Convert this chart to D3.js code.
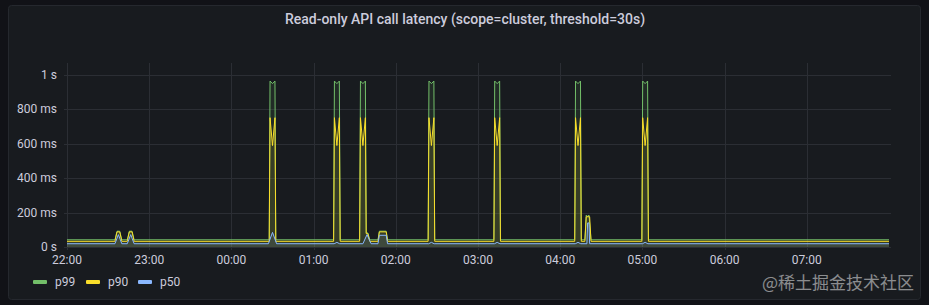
<!DOCTYPE html>
<html>
<head>
<meta charset="utf-8">
<script src="https://cdn.jsdelivr.net/npm/d3@7"></script>
<style>
  html, body { margin: 0; padding: 0; background: #111217; }
  svg { display: block; font-family: Roboto, "Noto Sans", sans-serif; }
</style>
</head>
<body>
<svg id="chart"></svg>
<script>
// minutes after 22:00, value in ms
const p99 = [
  [0, 42], [35, 42], [36.5, 92], [38.5, 92], [40, 42], [44, 42], [45.5, 92], [47.5, 92], [49, 42],
  [147.6, 42], [148.2, 965], [150, 950], [151.8, 965], [152.4, 42],
  [194.6, 42], [195.2, 965], [197, 950], [198.8, 965], [199.4, 42],
  [213.6, 42], [214.2, 965], [216, 950], [217.8, 965], [218.4, 82], [219.6, 82], [221, 42],
  [227, 42], [228, 92], [233, 92], [234, 42],
  [263.6, 42], [264.2, 965], [266, 950], [267.8, 965], [268.4, 42],
  [311.6, 42], [312.2, 965], [314, 950], [315.8, 965], [316.4, 42],
  [370.6, 42], [371.2, 965], [373, 950], [374.8, 965], [375.4, 42],
  [378, 42], [379, 186], [380, 178], [381, 186], [382.5, 42],
  [419.6, 42], [420.2, 965], [422, 950], [423.8, 965], [424.4, 42],
  [600, 42]
];
const p90 = [
  [0, 33], [35, 33], [36.5, 88], [38.5, 88], [40, 33], [44, 33], [45.5, 88], [47.5, 88], [49, 33],
  [147.6, 33], [148.2, 752], [150, 590], [151.8, 752], [152.4, 33],
  [194.6, 33], [195.2, 752], [197, 590], [198.8, 752], [199.4, 33],
  [213.6, 33], [214.2, 752], [216, 590], [217.8, 752], [218.4, 78], [219.6, 78], [221, 33],
  [227, 33], [228, 88], [233, 88], [234, 33],
  [263.6, 33], [264.2, 752], [266, 590], [267.8, 752], [268.4, 33],
  [311.6, 33], [312.2, 752], [314, 590], [315.8, 752], [316.4, 33],
  [370.6, 33], [371.2, 752], [373, 590], [374.8, 752], [375.4, 33],
  [378, 33], [379, 176], [381.5, 176], [382.5, 33],
  [419.6, 33], [420.2, 752], [422, 590], [423.8, 752], [424.4, 33],
  [600, 33]
];
const p50 = [
  [0, 19], [35, 19], [37.5, 72], [40, 19], [44, 19], [46.5, 72], [49, 19],
  [147, 19], [150, 85], [153, 19],
  [195, 19], [197, 27], [199, 19],
  [216, 19], [219, 72], [222, 19],
  [227, 19], [228, 68], [233, 68], [234, 19],
  [264, 19], [266, 27], [268, 19],
  [312, 19], [314, 27], [316, 19],
  [371, 19], [373, 27], [375, 19],
  [379.5, 19], [380, 140], [381, 140], [381.5, 19],
  [420, 19], [422, 27], [424, 19],
  [600, 19]
];

const seriesNames = ["p99", "p90", "p50"];
const seriesColors = ["#73BF69", "#FADE2A", "#8AB8FF"];
const xTickLabels = ["22:00", "23:00", "00:00", "01:00", "02:00", "03:00", "04:00", "05:00", "06:00", "07:00"];
const yTicks = [0, 200, 400, 600, 800, 1000];
const yTickLabels = ["0 s", "200 ms", "400 ms", "600 ms", "800 ms", "1 s"];

const width = 929, height = 305;
const svg = d3.select("#chart").attr("width", width).attr("height", height);

// panel
svg.append("rect")
  .attr("x", 8.5).attr("y", 5.5)
  .attr("width", 912).attr("height", 294)
  .attr("rx", 3)
  .attr("fill", "#181b1f")
  .attr("stroke", "#25282e");

svg.append("text")
  .attr("x", 465).attr("y", 24)
  .attr("text-anchor", "middle")
  .attr("font-size", 14)
  .attr("font-weight", 500)
  .attr("fill", "#ccccdc")
  .text("Read-only API call latency (scope=cluster, threshold=30s)");

const start = new Date(2022, 0, 1, 22, 0);
const toDate = m => new Date(start.getTime() + m * 60000);

const x = d3.scaleTime()
  .domain([toDate(0), toDate(600)])
  .range([67, 889]);
const y = d3.scaleLinear()
  .domain([0, 1070])
  .range([247, 63]);

const gridColor = "#2b2e34";

// horizontal grid
svg.append("g")
  .selectAll("line")
  .data(yTicks)
  .join("line")
  .attr("x1", 64).attr("x2", 891)
  .attr("y1", d => Math.round(y(d)) + 0.5)
  .attr("y2", d => Math.round(y(d)) + 0.5)
  .attr("stroke", gridColor);

// vertical grid
svg.append("g")
  .selectAll("line")
  .data(xTickLabels)
  .join("line")
  .attr("x1", (d, i) => Math.round(x(toDate(i * 60))) + 0.5)
  .attr("x2", (d, i) => Math.round(x(toDate(i * 60))) + 0.5)
  .attr("y1", 63).attr("y2", 250)
  .attr("stroke", gridColor);

// y labels
svg.append("g")
  .selectAll("text")
  .data(yTicks)
  .join("text")
  .attr("x", 57)
  .attr("y", d => y(d) + 4)
  .attr("text-anchor", "end")
  .attr("font-size", 12)
  .attr("fill", "#ccccdc")
  .text((d, i) => yTickLabels[i]);

// x labels
svg.append("g")
  .selectAll("text")
  .data(xTickLabels)
  .join("text")
  .attr("x", (d, i) => x(toDate(i * 60)))
  .attr("y", 264)
  .attr("text-anchor", "middle")
  .attr("font-size", 12)
  .attr("fill", "#ccccdc")
  .text(d => d);

// series
const allData = [p99, p90, p50];
const area = d3.area()
  .x(d => x(toDate(d[0])))
  .y0(y(0))
  .y1(d => y(d[1]));
const line = d3.line()
  .x(d => x(toDate(d[0])))
  .y(d => y(d[1]));

allData.forEach((data, i) => {
  svg.append("path")
    .datum(data)
    .attr("d", area)
    .attr("fill", seriesColors[i])
    .attr("fill-opacity", 0.1);
});
allData.forEach((data, i) => {
  svg.append("path")
    .datum(data)
    .attr("d", line)
    .attr("fill", "none")
    .attr("stroke", seriesColors[i])
    .attr("stroke-width", 1);
});

// legend
const legendX = [33, 86, 138];
const legend = svg.append("g")
  .selectAll("g")
  .data(seriesNames)
  .join("g")
  .attr("transform", (d, i) => `translate(${legendX[i]}, 282)`);
legend.append("rect")
  .attr("x", 0).attr("y", -2)
  .attr("width", 14).attr("height", 4)
  .attr("rx", 1)
  .attr("fill", (d, i) => seriesColors[i]);
legend.append("text")
  .attr("x", 22).attr("y", 4)
  .attr("font-size", 12)
  .attr("fill", "#ccccdc")
  .text(d => d);

// watermark
svg.append("text")
  .attr("x", 914).attr("y", 289)
  .attr("text-anchor", "end")
  .attr("font-family", "'Noto Sans CJK SC', sans-serif")
  .attr("font-size", 17)
  .attr("fill", "rgba(255,255,255,0.5)")
  .text("@稀土掘金技术社区");
</script>
</body>
</html>
